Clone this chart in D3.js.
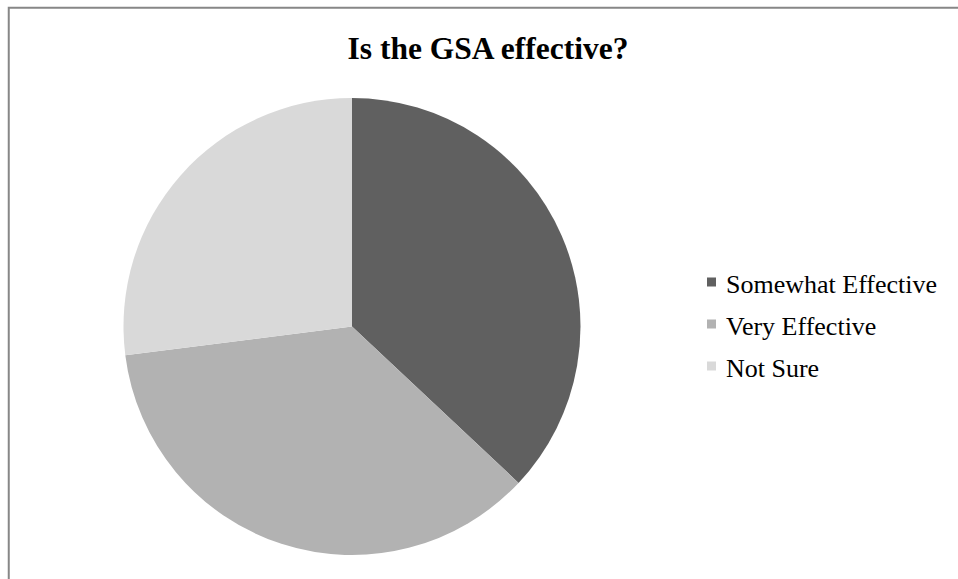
<!DOCTYPE html>
<html>
<head>
<meta charset="utf-8">
<script src="https://cdn.jsdelivr.net/npm/d3@7"></script>
<style>
  html, body { margin: 0; padding: 0; background: #fff; }
  svg { display: block; }
</style>
</head>
<body>
<svg id="chart" width="958" height="579"></svg>
<script>
const title = "Is the GSA effective?";
const categories = ["Somewhat Effective", "Very Effective", "Not Sure"];
const values = [37, 36, 27];
const colors = ["#606060", "#b2b2b2", "#d9d9d9"];

const svg = d3.select("#chart");

// chart border
svg.append("rect")
  .attr("x", 8.75).attr("y", 7.75)
  .attr("width", 1000).attr("height", 1000)
  .attr("fill", "none")
  .attr("stroke", "#878787")
  .attr("stroke-width", 2);

// title
svg.append("text")
  .attr("x", 488).attr("y", 59)
  .attr("text-anchor", "middle")
  .attr("font-family", "'Liberation Serif', 'Times New Roman', serif")
  .attr("font-weight", "bold")
  .attr("font-size", 31.5)
  .attr("fill", "#000")
  .text(title);

// pie
const data = categories.map((c, i) => ({ name: c, value: values[i], color: colors[i] }));
const pie = d3.pie().sort(null).value(d => d.value);
const radius = 228.5;
const arc = d3.arc().innerRadius(0).outerRadius(radius);
const cx = 352, cy = 326.5;

svg.append("g")
  .attr("transform", `translate(${cx},${cy})`)
  .selectAll("path")
  .data(pie(data))
  .join("path")
  .attr("d", arc)
  .attr("fill", d => d.data.color);

// legend
const legendY = d3.scalePoint().domain(categories).range([282, 366]);
const lg = svg.append("g");
const items = lg.selectAll("g").data(data).join("g")
  .attr("transform", d => `translate(707,${legendY(d.name)})`);
items.append("rect")
  .attr("x", 0).attr("y", -4.5)
  .attr("width", 9).attr("height", 9)
  .attr("fill", d => d.color);
items.append("text")
  .attr("x", 19).attr("y", 11)
  .attr("font-family", "'Liberation Serif', 'Times New Roman', serif")
  .attr("font-size", 26)
  .attr("fill", "#000")
  .text(d => d.name);
</script>
</body>
</html>
